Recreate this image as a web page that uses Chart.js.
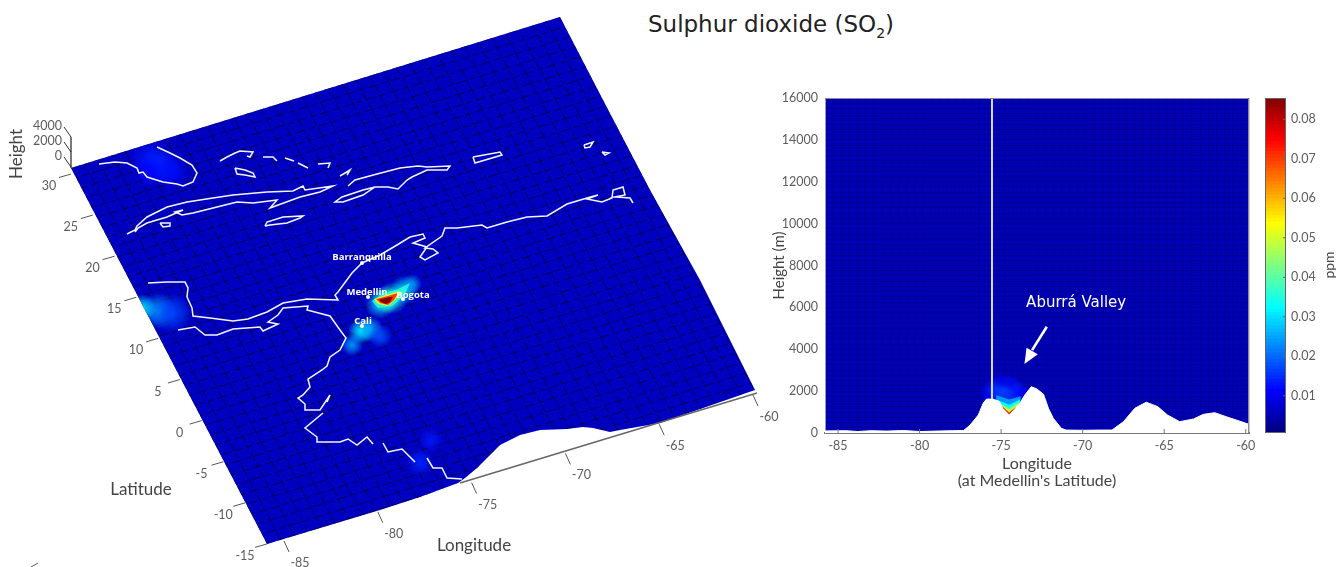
<!DOCTYPE html>
<html><head><meta charset="utf-8">
<style>
html,body{margin:0;padding:0;background:#fff;width:1342px;height:567px;overflow:hidden}
canvas{position:absolute;filter:blur(.35px)}
#title{position:absolute;left:571px;width:400px;top:11px;text-align:center;font:23px "DejaVu Sans";color:#222;white-space:nowrap}
#title sub{font-size:14px;line-height:0}
</style>
<script src="https://cdn.jsdelivr.net/npm/chart.js@4"></script>
</head><body>
<div id="title">Sulphur dioxide (SO<sub>2</sub>)</div>
<canvas id="scene" width="800" height="567" style="left:0;top:0"></canvas>
<canvas id="slice" width="489" height="402" style="left:770px;top:88px"></canvas>
<canvas id="bar" width="77" height="355" style="left:1265px;top:88px"></canvas>
<script>
// ---- tick labels
const latTicks=[30,25,20,15,10,5,0,-5,-10,-15];
const lonTicks=[-85,-80,-75,-70,-65,-60];
const heightTicks=[4000,2000,0];
const ppmTicks=[0.01,0.02,0.03,0.04,0.05,0.06,0.07,0.08];

// ---- left panel, values read in the hidden scene scale
const surfaceEdge=[[71,168],[560,17],[603,100],[650,190],[700,280],[730,340],[755,390],[660,423],[620,430],[610,432],[593,428],[583,427],[567,429],[540,430],[520,435],[500,445],[487,458],[477,468],[465,478],[458,483],[420,497],[380,510],[267,544]];
const coastGulf=[[99,164],[115,162],[127,163],[137,168],[139,173],[143,172],[147,177],[163,182],[177,184],[183,186],[193,182],[197,173],[192,165],[180,158],[170,153],[157,147]];
const coastBahamas=[
 [[220,161],[227,157],[235,153],[240,151],[253,152],[250,157],[247,156]],
 [[235,168],[245,170],[253,173],[255,177],[245,175],[237,174],[235,168]],
 [[263,157],[273,157],[277,161]],[[285,158],[294,161]],[[298,163],[308,168]],
 [[318,164],[330,163],[328,168]],[[340,176],[350,170],[347,175]]];
const coastCuba=[[127,234],[135,230],[137,226],[147,217],[167,207],[187,202],[213,198],[233,195],[267,192],[293,191],[303,186],[305,190],[333,186],[320,192],[300,197],[270,208],[277,200],[253,203],[237,202],[217,207],[193,213],[182,215],[175,212],[183,210],[167,217],[147,223],[138,228],[135,232]];
const coastYouth=[[160,223],[170,223],[170,226],[163,227],[160,223]];
const coastJamaica=[[265,226],[267,222],[283,217],[303,216],[300,218],[287,223],[270,225],[265,226]];
const coastHispaniola=[[348,186],[355,180],[377,174],[400,168],[418,166],[427,167],[450,166],[447,170],[427,170],[412,177],[407,180],[398,189],[388,187],[375,187],[363,195],[343,202],[335,202],[342,197],[363,190],[375,187]];
const coastPuertoRico=[[473,157],[500,152],[502,155],[475,163],[473,157]];
const coastSmall=[[[584,145],[593,142],[590,147],[585,148],[584,145]],[[602,152],[609,153],[605,155],[602,152]]];
const coastCaribbean=[[148,283],[167,282],[185,282],[188,288],[187,297],[192,308],[193,316],[210,318],[233,321],[248,319],[267,312],[283,303],[307,299],[338,300],[335,295],[338,292],[352,273],[362,263],[380,255],[397,245],[410,237],[423,234],[425,238],[413,243],[427,247],[420,257],[425,260],[438,253],[433,249],[425,248],[442,236],[445,228],[457,228],[482,225],[487,228],[507,222],[527,217],[547,216],[567,204],[587,198],[598,195],[587,199],[602,202],[612,198],[613,190],[623,187],[625,195],[615,197],[630,198],[633,203]];
const coastPacific=[[[178,330],[195,327],[205,335],[217,335],[233,329],[260,327],[263,331],[278,324],[268,322],[278,315],[283,308],[308,306],[307,310],[330,316],[340,330],[346,338],[340,350],[330,357],[327,366],[322,370],[308,379],[310,387],[303,395],[298,398],[305,404],[305,410],[320,410],[330,395],[327,402]],
 [[323,413],[305,428],[317,437],[317,442],[340,442],[348,439],[357,445],[367,437],[373,444]],
 [[383,443],[388,452],[402,449],[415,462]],
 [[427,458],[433,468],[442,468],[447,478],[462,479]]];
const cityNames=['Barranquilla','Medellin','Bogota','Cali'];
const cityX=[362,368,403,362];
const cityY=[263,297,299,326];
// concentration blobs on the surface (ppm)
const plumeX=[150,160,172,148, 158,142,172,  420,431,  352,361,370,380, 380,392,404,412, 386];
const plumeY=[160,166,172,172, 311,308,313,  462,440,  345,331,329,336, 304,298,290,284, 300];
const plumeR=[22,20,18,16,     18,14,20,    14,12,    11,13,13,12,     15,16,14,10,     14];
const plumePpm=[.013,.014,.012,.011, .024,.03,.017, .014,.013, .024,.032,.026,.018, .028,.034,.03,.024, .036];
const coreCyan=[[372,301],[384,293],[398,289],[410,283],[404,296],[392,306],[378,308]];
const coreYellow=[[374,299],[386,295],[399,291],[402,293],[394,301],[388,306],[378,304]];
const coreRed=[[376,299],[388,296],[398,293],[394,300],[388,305],[380,303]];
const coreDark=[[379,299.5],[390,297],[393,297],[390,302],[386,304],[381,302]];

// ---- right panel
const terrainLon=[-85.8,-84.5,-83.8,-83,-82,-81,-80,-79,-78,-77.3,-76.9,-76.4,-76.1,-75.9,-75.5,-75.1,-74.9,-74.5,-74.25,-73.85,-73.55,-73.15,-72.8,-72.4,-72.1,-71.8,-71.3,-71,-70,-69,-68.2,-67.5,-66.8,-66.1,-65.4,-64.8,-64.05,-63.2,-62.6,-61.9,-61.2,-59.8];
const terrainH=[100,110,70,110,90,120,70,90,110,120,380,860,1420,1620,1620,1500,1180,860,1070,1420,1810,2210,2100,1850,1180,700,220,140,130,140,140,540,1180,1470,1260,860,540,670,890,970,780,415];
const medellinLon=-75.56;
const sliceLon=[-75.7,-75.3,-74.8,-74.3,-73.9,-73.6,-75,-74.4];
const sliceH=[1900,2100,2000,2000,1900,1900,2500,2400];
const sliceR=[10,13,16,14,10,8,9,9];
const slicePpm=[.011,.014,.017,.015,.012,.01,.009,.009];
const valleyBands=[
 {ppm:.024,lon:[-75.3,-74.5,-73.8],h:[1800,1600,1750]},
 {ppm:.033,lon:[-75.3,-74.5,-73.85],h:[1600,1350,1600]},
 {ppm:.042,lon:[-75.25,-74.5,-73.9],h:[1500,1180,1500]},
 {ppm:.053,lon:[-75.2,-74.5,-74.0],h:[1450,1080,1350]},
 {ppm:.068,lon:[-75.1,-74.5,-74.1],h:[1400,990,1250]},
 {ppm:.082,lon:[-75,-74.5,-74.2],h:[1300,920,1150]}];
const arrowLon=[-72.2,-73.1];
const arrowH=[5077,3960];
const arrowHeadLon=[-73.57,-73.44,-72.75];
const arrowHeadH=[3295,4074,3759];

// ---- colours
const clamp=v=>Math.round(255*Math.max(0,Math.min(1,v)));
const PMIN=.00058,PMAX=.0854;
function jet(ppm,a=1){const t=(ppm-PMIN)/(PMAX-PMIN);
 return `rgba(${clamp(1.5-Math.abs(4*t-3))},${clamp(1.5-Math.abs(4*t-2))},${clamp(1.5-Math.abs(4*t-1))},${a})`;}
const TICK='#5c5c5c',GOTHIC='Lato';
Chart.defaults.font.family=GOTHIC;
const pts=a=>a.map(p=>({x:p[0],y:p[1]}));
const line=(a,color,width,extra={})=>({data:pts(a),showLine:true,borderColor:color,borderWidth:width,pointRadius:0,tension:0,fill:false,...extra});
const poly=(a,color)=>({data:pts(a),showLine:true,borderWidth:0,borderColor:color,backgroundColor:color,fill:'shape',pointRadius:0,tension:0});
const blobColor=(cols)=>ctx=>{
 if(ctx.type!=='data')return 'transparent';
 const c=ctx.chart,i=ctx.dataIndex,d=ctx.dataset.data[i],x=c.scales.x.getPixelForValue(d.x),y=c.scales.y.getPixelForValue(d.y);
 if(!isFinite(x)||!isFinite(y))return 'transparent';
 const r=cols.r[i],g=c.ctx.createRadialGradient(x,y,0,x,y,r);
 g.addColorStop(0,jet(cols.p[i],.95));g.addColorStop(.45,jet(cols.p[i],.6));g.addColorStop(1,jet(cols.p[i],0));return g;};
const ordered=l=>{l.forEach((d,i)=>d.order=l.length-i);return l;};

// ---- left scene
const ds=[];
ds.push(poly(surfaceEdge,jet(.006)));
// surface mesh
const A=[71,168],U=[489,-151],V=[196,376];
const NU=36,NV=38;
for(let i=0;i<=NU;i++){const s=i/NU;
 ds.push({...line([[A[0]+U[0]*s,A[1]+U[1]*s],[A[0]+U[0]*s+V[0],A[1]+U[1]*s+V[1]]],'rgba(0,0,40,.68)',1,{borderDash:[9,3,5,3],borderDashOffset:i*5}),clipSurface:true});}
for(let j=0;j<=NV;j++){const s=j/NV;
 ds.push({...line([[A[0]+V[0]*s,A[1]+V[1]*s],[A[0]+V[0]*s+U[0],A[1]+V[1]*s+U[1]]],'rgba(0,0,40,.68)',1,{borderDash:[10,4,6,4],borderDashOffset:j*7}),clipSurface:true});}
ds.push({data:plumeX.map((x,i)=>({x,y:plumeY[i]})),showLine:false,clipSurface:true,pointRadius:c=>plumeR[c.dataIndex],pointBorderWidth:0,pointHoverRadius:c=>plumeR[c.dataIndex],pointBackgroundColor:blobColor({r:plumeR,p:plumePpm})});
ds.push(poly(coreCyan,jet(.036,.85)),poly(coreYellow,jet(.05)),poly(coreRed,jet(.07)),poly(coreDark,jet(.085)));
const W='#f4f6ff';
[coastGulf,...coastBahamas,coastCuba,coastYouth,coastJamaica,coastHispaniola,coastPuertoRico,...coastSmall,coastCaribbean,...coastPacific].forEach(c=>ds.push(line(c,W,1.5)));
ds.push({data:cityX.map((x,i)=>({x,y:cityY[i]})),showLine:false,pointRadius:2,pointBorderWidth:0,pointBackgroundColor:'#fff'});
// axes of the scene
const latBase=l=>[71+(30-l)*4.356,174+(30-l)*8.22];
const lonBase=l=>[284+(l+85)*18.76,541-(l+85)*5.84];
const heightBase=h=>[71,167-h*.0075];
latTicks.forEach(l=>{const b=latBase(l);ds.push(line([b,[b[0]-12,b[1]+3.5]],'#555',1));});
lonTicks.forEach(l=>{const b=lonBase(l);ds.push(line([b,[b[0]+5,b[1]+11]],'#555',1));});
heightTicks.forEach(h=>{const b=heightBase(h);ds.push(line([b,[b[0]-7,b[1]-10]],'#333',1));});
ds.push(line([[71,137],[71,168]],'#222',1.2));
ds.push(line([[460,483],[757,393]],'#666',1.4));
ds.push(line([[31,567],[38,563]],'#555',1));

const sceneText={id:'sceneText',
 beforeDatasetDraw(c,a){if(c.data.datasets[a.index].clipSurface){const g=c.ctx,x=c.scales.x,y=c.scales.y;g.save();g.beginPath();
   surfaceEdge.forEach((p,i)=>{const X=x.getPixelForValue(p[0]),Y=y.getPixelForValue(p[1]);i?g.lineTo(X,Y):g.moveTo(X,Y);});g.closePath();g.clip();}},
 afterDatasetDraw(c,a){if(c.data.datasets[a.index].clipSurface)c.ctx.restore();},
 afterDatasetsDraw(c){const g=c.ctx,x=v=>c.scales.x.getPixelForValue(v),y=v=>c.scales.y.getPixelForValue(v);
  g.save();g.textAlign='center';g.textBaseline='middle';
  g.font='12.5px '+GOTHIC;g.fillStyle=TICK;
  latTicks.forEach(l=>{const b=latBase(l);g.fillText(l,x(b[0]-22),y(b[1]+12));});
  lonTicks.forEach(l=>{const b=lonBase(l);g.fillText(l,x(b[0]+16),y(b[1]+22));});
  g.textAlign='right';
  heightTicks.forEach(h=>{const b=heightBase(h);g.fillText(h,x(62),y(b[1]-11));});
  g.textAlign='center';g.font='17px '+GOTHIC;g.fillStyle='#444';
  g.fillText('Latitude',x(141),y(490));g.fillText('Longitude',x(474),y(546));
  g.save();g.translate(x(17),y(154));g.rotate(-Math.PI/2);g.fillText('Height',0,0);g.restore();
  g.font='bold 9.5px "Open Sans"';g.fillStyle='#fff';
  const lx=[362,367,413,363],ly=[257,292,295,321];
  cityNames.forEach((n,i)=>g.fillText(n,x(lx[i]),y(ly[i])));
  g.restore();}};
new Chart(document.getElementById('scene'),{type:'scatter',data:{datasets:ordered(ds)},plugins:[sceneText],
 options:{responsive:false,animation:false,events:[],layout:{padding:0,autoPadding:false},plugins:{legend:{display:false},tooltip:{enabled:false}},
 scales:{x:{type:'linear',display:false,min:0,max:800},y:{type:'linear',display:false,min:0,max:567,reverse:true}}}});

// ---- right slice
const rd=[];
rd.push({data:sliceLon.map((x,i)=>({x,y:sliceH[i]})),showLine:false,pointRadius:c=>sliceR[c.dataIndex],pointBorderWidth:0,pointBackgroundColor:blobColor({r:sliceR,p:slicePpm})});
valleyBands.forEach(b=>rd.push(poly([...b.lon.map((x,i)=>[x,b.h[i]]),[b.lon[2],0],[b.lon[0],0]],jet(b.ppm))));
rd.push(line(terrainLon.map((x,i)=>[x,terrainH[i]]),'#fff',1,{fill:'origin',backgroundColor:'#fff'}));
rd.push(line([[medellinLon,16000],[medellinLon,1620]],'#d5d9ee',2));
rd.push(line(arrowLon.map((x,i)=>[x,arrowH[i]]),'#fff',2.6));
rd.push(poly(arrowHeadLon.map((x,i)=>[x,arrowHeadH[i]]),'#fff'));
const sliceDeco={id:'sliceDeco',
 beforeDraw(c){const a=c.chartArea,g=c.ctx;g.save();g.fillStyle=jet(.005);g.fillRect(a.left,a.top,a.right-a.left,a.bottom-a.top);g.restore();},
 afterDraw(c){const a=c.chartArea,g=c.ctx,sx=c.scales.x,sy=c.scales.y;g.save();
  g.strokeStyle='#8a8a9a';g.lineWidth=1;g.beginPath();g.moveTo(a.left,a.top+.5);g.lineTo(a.right-.5,a.top+.5);g.lineTo(a.right-.5,a.bottom);g.stroke();
  g.strokeStyle='#777';lonTicks.forEach(l=>{const X=sx.getPixelForValue(l);g.beginPath();g.moveTo(X,a.bottom);g.lineTo(X,a.bottom-4);g.stroke();});
  g.font='12.5px '+GOTHIC;g.fillStyle=TICK;g.textAlign='center';g.textBaseline='middle';
  lonTicks.forEach(l=>g.fillText(String(l),sx.getPixelForValue(l),a.bottom+13));
  g.font='15px "DejaVu Sans"';g.fillStyle='#fff';
  g.fillText('Aburrá Valley',sx.getPixelForValue(-70.4),sy.getPixelForValue(6200));g.restore();}};
new Chart(document.getElementById('slice'),{type:'scatter',data:{datasets:ordered(rd)},plugins:[sliceDeco],
 options:{responsive:false,animation:false,events:[],layout:{autoPadding:false,padding:{top:10,right:10,bottom:0,left:0}},plugins:{legend:{display:false},tooltip:{enabled:false}},
 scales:{
  x:{type:'linear',min:-85.8,max:-59.8,afterFit(s){s.height=57;s.paddingLeft=0;s.paddingRight=0;},
   border:{color:'#777',width:2},
   grid:{color:'rgba(0,0,40,.2)',drawTicks:false},
   ticks:{stepSize:.5,display:false},
   title:{display:true,text:['Longitude',"(at Medellin's Latitude)"],color:'#444',font:{size:16,lineHeight:1.1},padding:0}},
  y:{type:'linear',min:0,max:16000,afterFit(s){s.width=55;s.paddingTop=0;s.paddingBottom=0;},
   border:{color:'#9a9ab0',width:1},
   grid:{color:'rgba(0,0,40,.2)',drawTicks:false},
   ticks:{stepSize:250,autoSkip:false,maxTicksLimit:100,padding:7,color:TICK,font:{size:12.5},callback:v=>v%2000===0?String(v):''},
   title:{display:true,text:'Height (m)',color:'#444',font:{size:15},padding:0}}}}});

// ---- colour bar
const bd=[];
const barLevels=Array.from({length:100},(_,i)=>PMIN+(PMAX-PMIN)*i/100);
const barStep=(PMAX-PMIN)/100;
barLevels.forEach(v=>bd.push({data:[[v,v+barStep*1.05]],backgroundColor:jet(v+barStep/2),borderWidth:0,barPercentage:1,categoryPercentage:1,grouped:false}));
const barDeco={id:'barDeco',afterDraw(c){const a=c.chartArea,g=c.ctx,s=c.scales.y;g.save();g.strokeStyle='#666';g.lineWidth=1;
  g.strokeRect(a.left+.5,a.top+.5,a.right-a.left-1,a.bottom-a.top-1);
  ppmTicks.forEach(v=>{const Y=s.getPixelForValue(v);g.beginPath();g.moveTo(a.right,Y);g.lineTo(a.right-3,Y);g.stroke();});
  g.font='14px '+GOTHIC;g.fillStyle='#444';g.textAlign='center';g.textBaseline='middle';
  g.translate(64,177);g.rotate(-Math.PI/2);g.fillText('ppm',0,0);g.restore();}};
new Chart(document.getElementById('bar'),{type:'bar',data:{labels:['ppm'],datasets:bd},plugins:[barDeco],
 options:{responsive:false,animation:false,events:[],layout:{autoPadding:false,padding:{top:10,bottom:10,left:0,right:0}},plugins:{legend:{display:false},tooltip:{enabled:false}},
 scales:{x:{display:false},
  y:{position:'right',min:PMIN,max:PMAX,afterFit(s){s.width=56;s.paddingTop=0;s.paddingBottom=0;},border:{display:false},grid:{display:false,drawTicks:false},
   afterBuildTicks(s){s.ticks=ppmTicks.map(value=>({value}));},
   ticks:{autoSkip:false,padding:5,color:TICK,font:{size:12.5},callback:v=>v.toFixed(2)}}}}});
</script>
</body></html>
